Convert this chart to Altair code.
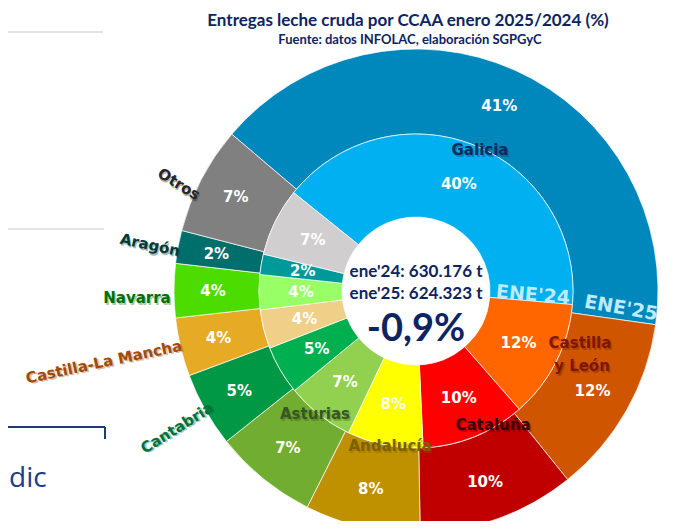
import math
import altair as alt
import pandas as pd

# ---------------- data ----------------
regions = ["Galicia", "Castilla y León", "Cataluña", "Andalucía", "Asturias",
           "Cantabria", "Castilla-La Mancha", "Navarra", "Aragón", "Otros"]
share_2025 = [41.0, 12.0, 10.5, 7.7, 6.9, 5.0, 3.9, 3.6, 2.2, 7.2]
share_2024 = [40.6, 12.2, 10.7, 7.8, 7.0, 5.0, 4.0, 3.6, 2.1, 7.0]
labels_2025 = ["41%", "12%", "10%", "8%", "7%", "5%", "4%", "4%", "2%", "7%"]
labels_2024 = ["40%", "12%", "10%", "8%", "7%", "5%", "4%", "4%", "2%", "7%"]
colors_2025 = ["#0088BD", "#D05500", "#C00000", "#BF9000", "#70AD30",
               "#009844", "#E6AA24", "#4CDC00", "#006E6A", "#808080"]
colors_2024 = ["#00B0F0", "#FF6600", "#FF0000", "#FFFF00", "#92D050",
               "#00B050", "#F0D088", "#99FF66", "#009999", "#D0CECE"]
center_lines = ["ene'24: 630.176 t", "ene'25: 624.323 t"]
change_text = "-0,9%"
ring_names = ["ENE'24", "ENE'25"]
title_text = "Entregas leche cruda por CCAA enero 2025/2024 (%)"
subtitle_text = "Fuente: datos INFOLAC, elaboración SGPGyC"

# region name labels (text, colour)
name_text = ["Galicia", "Castilla", "y León", "Cataluña", "Andalucía", "Asturias",
             "Cantabria", "Castilla-La Mancha", "Navarra", "Aragón", "Otros"]
name_color = ["#0D2A5C", "#7A1800", "#7A1800", "#3C0000", "#7F6000", "#375623",
              "#00703C", "#A04A08", "#007000", "#003B38", "#262626"]

# ---------------- layout (page pixels) ----------------
OX, OY = 8, 8
CX, CY = 416 - OX, 291 - OY
R_HOLE, R_MID, R_OUT = 74, 157, 242
NAME_POS = [(480, 150), (580, 343), (582, 366), (493, 425), (390, 446), (315, 414),
            (177, 428), (104, 362), (137, 298), (150, 245), (179, 184)]
NAME_ROT = [0, 0, 0, 0, 0, 0, 328, 348, 0, 12, 32]
FONT_LBL = "DejaVu Sans"
FONT_TXT = "Lato"
NAVY = "#0D2460"


def ring(values, labels, colors, start_deg, r_in, r_out, r_lab):
    df = pd.DataFrame({"region": regions, "share": values, "label": labels,
                       "color": colors, "idx": list(range(len(regions)))})
    start = math.radians(start_deg)
    th = alt.Theta("share:Q", stack=True,
                   scale=alt.Scale(domain=[0, sum(values)], range=[start, start + 2 * math.pi]))
    base = alt.Chart(df).encode(theta=th, order=alt.Order("idx:Q"),
                                x=alt.value(CX), y=alt.value(CY))
    arcs = base.mark_arc(radius=r_out, radius2=r_in, stroke="white", strokeWidth=0.7).encode(
        color=alt.Color("color:N", scale=None))
    txt = base.mark_text(radius=r_lab, font=FONT_LBL, fontSize=15, fontWeight="bold",
                         color="white").encode(text="label:N")
    return arcs, txt


outer_arc, outer_txt = ring(share_2025, labels_2025, colors_2025, 310.4, R_MID, R_OUT, 203)
inner_arc, inner_txt = ring(share_2024, labels_2024, colors_2024, 308.8, R_HOLE, R_MID, 115)

names_df = pd.DataFrame({
    "t": name_text, "c": name_color,
    "x": [p[0] - OX for p in NAME_POS], "y": [p[1] - OY for p in NAME_POS],
    "r": NAME_ROT,
})
names_enc = dict(x=alt.X("x:Q", scale=None), y=alt.Y("y:Q", scale=None),
                 text="t:N", color=alt.Color("c:N", scale=None),
                 angle=alt.Angle("r:Q", scale=None))
names_shadow = alt.Chart(names_df).mark_text(
    font=FONT_LBL, fontSize=15, fontWeight="bold", baseline="middle",
    dx=1.5, dy=1.5, opacity=0.35).encode(**names_enc)
names = alt.Chart(names_df).mark_text(
    font=FONT_LBL, fontSize=15, fontWeight="bold", baseline="middle").encode(**names_enc)

ene_df = pd.DataFrame({"t": ring_names, "x": [533 - OX, 621 - OX], "y": [295 - OY, 308 - OY],
                       "r": [5, 10]})
ene = alt.Chart(ene_df).mark_text(font=FONT_LBL, fontSize=19, fontWeight="bold",
                                  color="#BDEBFF", baseline="middle").encode(
    x=alt.X("x:Q", scale=None), y=alt.Y("y:Q", scale=None), text="t:N",
    angle=alt.Angle("r:Q", scale=None))

center_df = pd.DataFrame({"t": center_lines, "x": [416 - OX] * 2, "y": [272 - OY, 294 - OY]})
center = alt.Chart(center_df).mark_text(font=FONT_TXT, fontSize=17, fontWeight="bold",
                                        color=NAVY, baseline="middle").encode(
    x=alt.X("x:Q", scale=None), y=alt.Y("y:Q", scale=None), text="t:N")

change_df = pd.DataFrame({"t": [change_text], "x": [416 - OX], "y": [330 - OY]})
change = alt.Chart(change_df).mark_text(font=FONT_TXT, fontSize=38, fontWeight="bold",
                                        color=NAVY, baseline="middle").encode(
    x=alt.X("x:Q", scale=None), y=alt.Y("y:Q", scale=None), text="t:N")

title_df = pd.DataFrame({"t": [title_text, subtitle_text], "x": [408 - OX, 410 - OX],
                         "y": [21 - OY, 40 - OY], "s": [17, 13]})
title = alt.Chart(title_df).mark_text(font=FONT_TXT, fontWeight="bold", color=NAVY,
                                      baseline="middle").encode(
    x=alt.X("x:Q", scale=None), y=alt.Y("y:Q", scale=None), text="t:N",
    size=alt.Size("s:Q", scale=None))

# background slide remnants on the left
one = pd.DataFrame({"a": [0]})
line1 = alt.Chart(one).mark_rule(color="#D6DAE8", strokeWidth=1.5).encode(
    x=alt.value(0), x2=alt.value(103 - OX), y=alt.value(32 - OY))
line2 = alt.Chart(one).mark_rule(color="#D8D8E2", strokeWidth=1.5).encode(
    x=alt.value(0), x2=alt.value(104 - OX), y=alt.value(229 - OY))
line3 = alt.Chart(one).mark_rule(color="#1F3A78", strokeWidth=2).encode(
    x=alt.value(0), x2=alt.value(105 - OX), y=alt.value(427 - OY))
line4 = alt.Chart(one).mark_rule(color="#1F3A78", strokeWidth=2).encode(
    x=alt.value(105 - OX), y=alt.value(427 - OY), y2=alt.value(439 - OY))
dic = alt.Chart(pd.DataFrame({"t": ["dic"]})).mark_text(
    font="Open Sans", fontSize=28, color="#1F3A8A", align="left", baseline="alphabetic").encode(
    x=alt.value(1), y=alt.value(487 - OY), text="t:N")

chart = alt.layer(
    outer_arc, inner_arc, outer_txt, inner_txt, names_shadow, names, ene, center, change,
    title, line1, line2, line3, line4, dic,
).resolve_scale(theta="independent").properties(
    width=664, height=513, padding=0, autosize=alt.AutoSizeParams(type="none"),
    background="white",
).configure_view(stroke=None)

chart.save("out.html", embed_options={"renderer": "svg", "actions": False})
